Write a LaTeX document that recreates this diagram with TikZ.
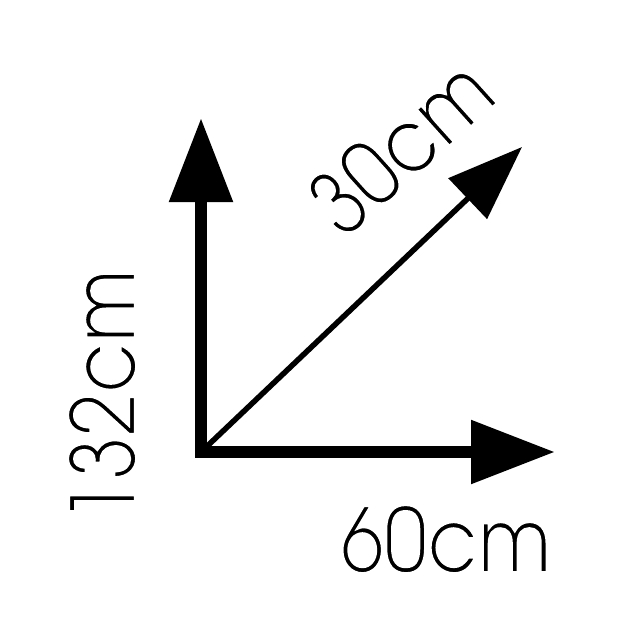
\documentclass[tikz,border=0pt]{standalone}
\usepackage{fontspec}
\setmainfont[FakeStretch=0.88]{texgyreadventor-regular.otf}
\usetikzlibrary{arrows.meta}
\newcommand{\thinglyphs}[1]{\special{pdf:literal direct 2 Tr 1 1 1 RG 2 w}#1\special{pdf:literal direct 0 Tr 0 0 0 RG}}
\begin{document}
\begin{tikzpicture}[x=1pt,y=-1pt,
  bigarrow/.style={line width=12pt, line join=miter, line cap=butt},
  thinarrow/.style={line width=5.5pt, line cap=butt, -{Triangle[length=75pt,width=55pt]}},
  dimlabel/.style={font=\fontsize{89}{89}\selectfont, inner sep=0pt}]
\useasboundingbox (0,0) rectangle (640,640);
\coordinate (O) at (201,452);
\coordinate (V) at (201,118);
\coordinate (H) at (555,452);
\coordinate (D) at (522,147);
\draw[bigarrow, {Triangle[length=84pt,width=61pt]}-{Triangle[length=84pt,width=61pt]}] (V) -- (O) -- (H);
\draw[thinarrow] (O) -- (D);
\node[dimlabel, anchor=base] (w) at (446,572) {\thinglyphs{60cm}};
\node[dimlabel, rotate=90, anchor=base] (h) at (135,396) {\thinglyphs{132cm}};
\node[dimlabel, rotate=42] (d) at (400,146) {\thinglyphs{30cm}};
\end{tikzpicture}
\end{document}
